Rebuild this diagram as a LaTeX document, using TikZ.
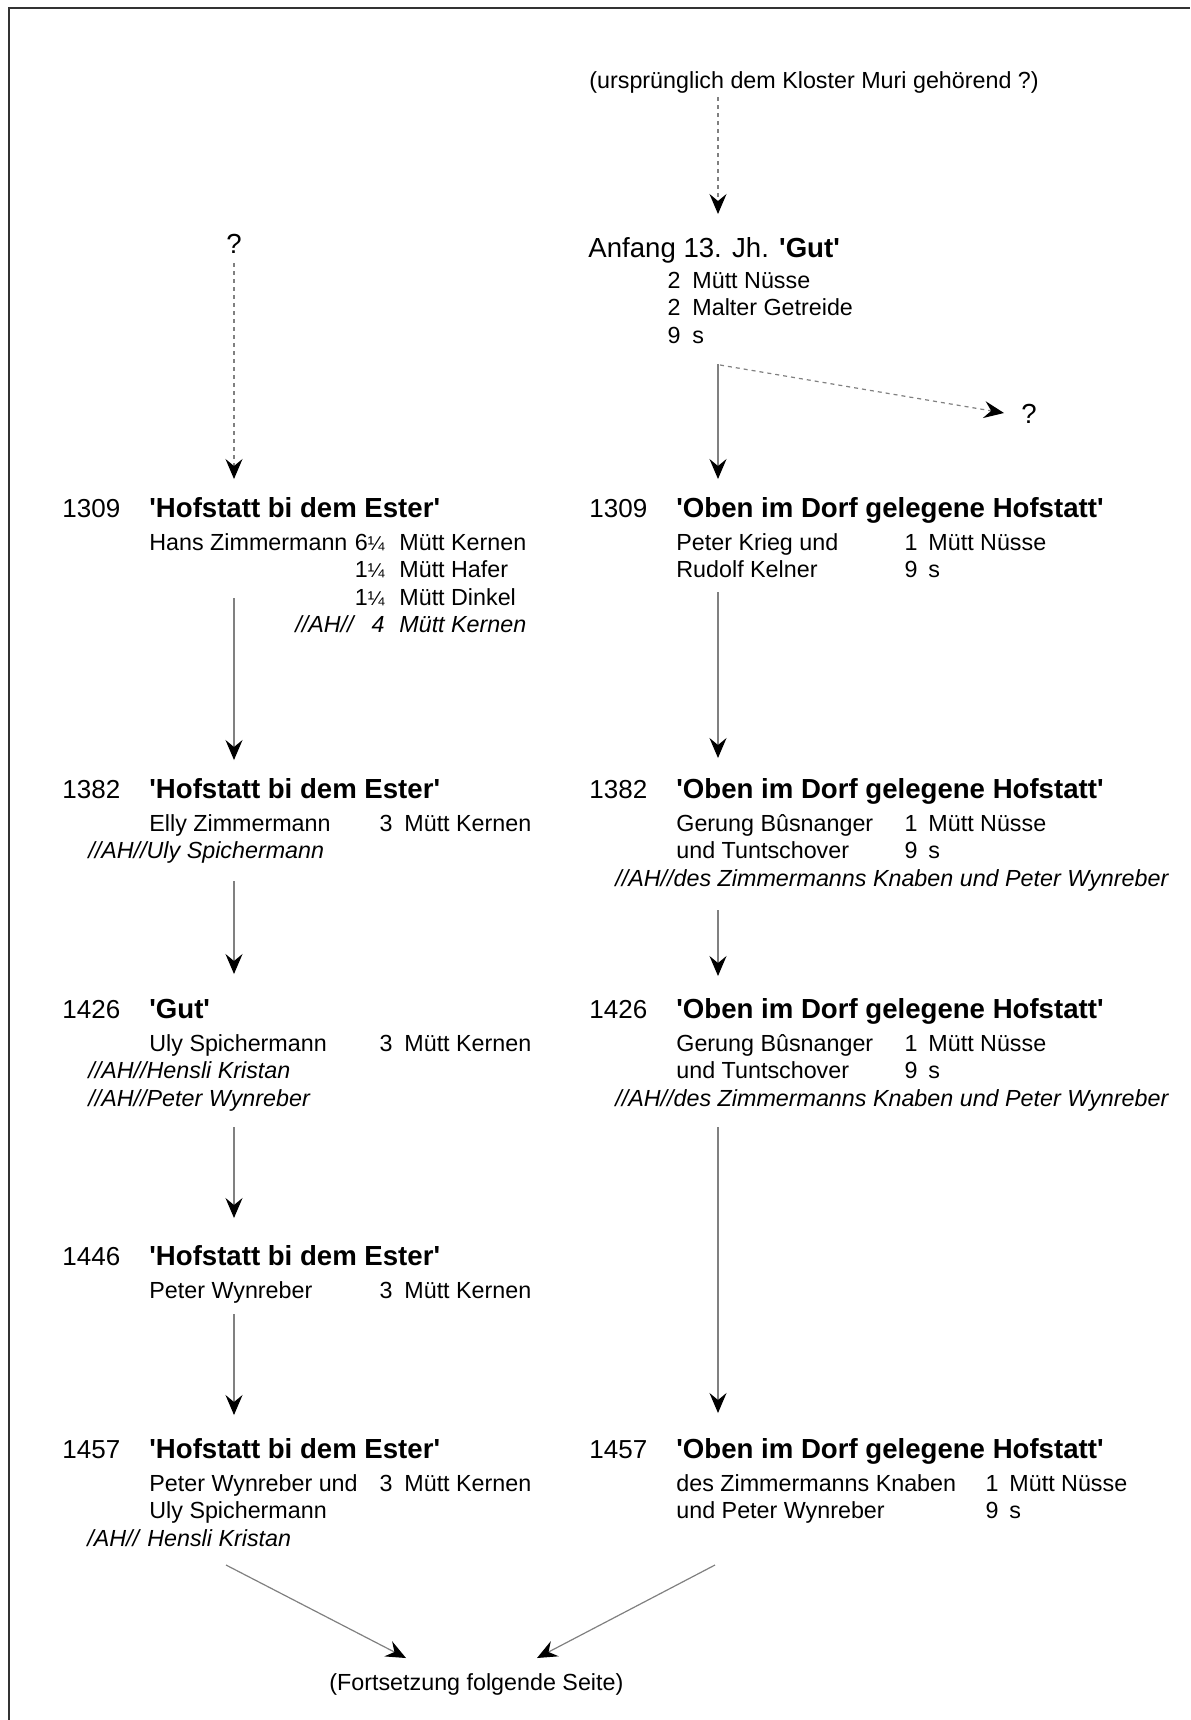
\documentclass[tikz,border=0pt]{standalone}
\usepackage{fontspec}
\setmainfont{Liberation Sans}
\usetikzlibrary{arrows.meta}
\newcommand{\qs}{\textquotesingle}
\newcommand{\qtr}{{\fontsize{10}{10}\selectfont ¼}}
\begin{document}
\begin{tikzpicture}[x=0.5pt,y=-0.5pt,
  txt/.style={anchor=base west, inner sep=0pt, font=\fontsize{11.65}{14}\selectfont},
  num/.style={anchor=base east, inner sep=0pt, font=\fontsize{11.65}{14}\selectfont},
  itx/.style={txt, font=\fontsize{11.65}{14}\selectfont\itshape},
  inum/.style={num, font=\fontsize{11.65}{14}\selectfont\itshape},
  yr/.style={anchor=base west, inner sep=0pt, font=\fontsize{13}{15}\selectfont},
  ttl/.style={anchor=base west, inner sep=0pt, font=\fontsize{13.8}{16}\selectfont\bfseries},
  big/.style={anchor=base west, inner sep=0pt, font=\fontsize{13.8}{16}\selectfont},
  qm/.style={anchor=base, inner sep=0pt, font=\fontsize{13.8}{16}\selectfont},
  arr/.style={draw=black!50, line width=0.6pt, -{Stealth[length=10pt, width=8.5pt, inset=3.5pt, black]}},
  darr/.style={arr, dash pattern=on 2pt off 2pt},
  frame/.style={draw=black!80, line width=1pt}
]
\useasboundingbox (0,0) rectangle (1190,1720);
\draw[frame] (9,1720) -- (9,8) -- (1190,8);

% ---- top right origin
\node[txt] (src) at (589,88) {(ursprünglich dem Kloster Muri gehörend ?)};
\node[big] (anf) at (588,257) {Anfang 13. Jh. \textbf{\qs Gut\qs}};
\node[num] (g1n) at (681,288) {2};
\node[txt] (g1u) at (692,288) {Mütt Nüsse};
\node[num] (g2n) at (681,315) {2};
\node[txt] (g2u) at (692,315) {Malter Getreide};
\node[num] (g3n) at (681,343) {9};
\node[txt] (g3u) at (692,343) {s};
\node[qm] (qr) at (1029,423) {?};
\node[qm] (ql) at (234,253) {?};

% ---- left column
\node[yr] (l1y) at (62,517) {1309};
\node[ttl] (l1t) at (149,517) {\qs Hofstatt bi dem Ester\qs};
\node[txt] (l1a) at (149,550) {Hans Zimmermann};
\node[num] (l1an) at (385,550) {6\qtr};
\node[txt] (l1au) at (399,550) {Mütt Kernen};
\node[num] (l1bn) at (385,577.5) {1\qtr};
\node[txt] (l1bu) at (399,577.5) {Mütt Hafer};
\node[num] (l1cn) at (385,605) {1\qtr};
\node[txt] (l1cu) at (399,605) {Mütt Dinkel};
\node[itx] (l1d) at (295,632.5) {//AH//};
\node[inum] (l1dn) at (385,632.5) {4};
\node[itx] (l1du) at (399,632.5) {Mütt Kernen};

\node[yr] (l2y) at (62,798) {1382};
\node[ttl] (l2t) at (149,798) {\qs Hofstatt bi dem Ester\qs};
\node[txt] (l2a) at (149,831) {Elly Zimmermann};
\node[num] (l2an) at (393,831) {3};
\node[txt] (l2au) at (404,831) {Mütt Kernen};
\node[itx] (l2b) at (88,858.5) {//AH//Uly Spichermann};

\node[yr] (l3y) at (62,1018) {1426};
\node[ttl] (l3t) at (149,1018) {\qs Gut\qs};
\node[txt] (l3a) at (149,1051) {Uly Spichermann};
\node[num] (l3an) at (393,1051) {3};
\node[txt] (l3au) at (404,1051) {Mütt Kernen};
\node[itx] (l3b) at (88,1078.5) {//AH//Hensli Kristan};
\node[itx] (l3c) at (88,1106) {//AH//Peter Wynreber};

\node[yr] (l4y) at (62,1265) {1446};
\node[ttl] (l4t) at (149,1265) {\qs Hofstatt bi dem Ester\qs};
\node[txt] (l4a) at (149,1298) {Peter Wynreber};
\node[num] (l4an) at (393,1298) {3};
\node[txt] (l4au) at (404,1298) {Mütt Kernen};

\node[yr] (l5y) at (62,1458) {1457};
\node[ttl] (l5t) at (149,1458) {\qs Hofstatt bi dem Ester\qs};
\node[txt] (l5a) at (149,1491) {Peter Wynreber und};
\node[num] (l5an) at (393,1491) {3};
\node[txt] (l5au) at (404,1491) {Mütt Kernen};
\node[txt] (l5b) at (149,1518.5) {Uly Spichermann};
\node[itx] (l5c) at (87,1546) {/AH//\hspace{0.35em}Hensli Kristan};

% ---- right column
\node[yr] (r1y) at (589,517) {1309};
\node[ttl] (r1t) at (676,517) {\qs Oben im Dorf gelegene Hofstatt\qs};
\node[txt] (r1a) at (676,550) {Peter Krieg und};
\node[num] (r1an) at (918,550) {1};
\node[txt] (r1au) at (928,550) {Mütt Nüsse};
\node[txt] (r1b) at (676,577.5) {Rudolf Kelner};
\node[num] (r1bn) at (918,577.5) {9};
\node[txt] (r1bu) at (928,577.5) {s};

\node[yr] (r2y) at (589,798) {1382};
\node[ttl] (r2t) at (676,798) {\qs Oben im Dorf gelegene Hofstatt\qs};
\node[txt] (r2a) at (676,831) {Gerung Bûsnanger};
\node[num] (r2an) at (918,831) {1};
\node[txt] (r2au) at (928,831) {Mütt Nüsse};
\node[txt] (r2b) at (676,858.5) {und Tuntschover};
\node[num] (r2bn) at (918,858.5) {9};
\node[txt] (r2bu) at (928,858.5) {s};
\node[itx] (r2c) at (615,886) {//AH//des Zimmermanns Knaben und Peter Wynreber};

\node[yr] (r3y) at (589,1018) {1426};
\node[ttl] (r3t) at (676,1018) {\qs Oben im Dorf gelegene Hofstatt\qs};
\node[txt] (r3a) at (676,1051) {Gerung Bûsnanger};
\node[num] (r3an) at (918,1051) {1};
\node[txt] (r3au) at (928,1051) {Mütt Nüsse};
\node[txt] (r3b) at (676,1078.5) {und Tuntschover};
\node[num] (r3bn) at (918,1078.5) {9};
\node[txt] (r3bu) at (928,1078.5) {s};
\node[itx] (r3c) at (615,1106) {//AH//des Zimmermanns Knaben und Peter Wynreber};

\node[yr] (r5y) at (589,1458) {1457};
\node[ttl] (r5t) at (676,1458) {\qs Oben im Dorf gelegene Hofstatt\qs};
\node[txt] (r5a) at (676,1491) {des Zimmermanns Knaben};
\node[num] (r5an) at (999,1491) {1};
\node[txt] (r5au) at (1009,1491) {Mütt Nüsse};
\node[txt] (r5b) at (676,1518.5) {und Peter Wynreber};
\node[num] (r5bn) at (999,1518.5) {9};
\node[txt] (r5bu) at (1009,1518.5) {s};

\node[txt] (fort) at (329,1690) {(Fortsetzung folgende Seite)};

% ---- connector end points
\coordinate (a0s) at (718,97);   \coordinate (a0e) at (718,214);
\coordinate (aLs) at (234,263);  \coordinate (aLe) at (234,479);
\coordinate (aRs) at (718,364);  \coordinate (aRe) at (718,479);
\coordinate (aDs) at (720,365);  \coordinate (aDe) at (1004,413);
\coordinate (l1s) at (234,598);  \coordinate (l1e) at (234,760);
\coordinate (r1s) at (718,592);  \coordinate (r1e) at (718,758);
\coordinate (l2s) at (234,881);  \coordinate (l2e) at (234,974);
\coordinate (r2s) at (718,910);  \coordinate (r2e) at (718,976);
\coordinate (l3s) at (234,1127); \coordinate (l3e) at (234,1218);
\coordinate (r3s) at (718,1127); \coordinate (r3e) at (718,1413);
\coordinate (l4s) at (234,1314); \coordinate (l4e) at (234,1415);
\coordinate (dLs) at (226,1565); \coordinate (dLe) at (406,1658);
\coordinate (dRs) at (715,1565); \coordinate (dRe) at (537,1658);

\draw[darr] (a0s) -- (a0e);
\draw[darr] (aLs) -- (aLe);
\draw[arr] (aRs) -- (aRe);
\draw[darr] (aDs) -- (aDe);
\draw[arr] (l1s) -- (l1e);
\draw[arr] (r1s) -- (r1e);
\draw[arr] (l2s) -- (l2e);
\draw[arr] (r2s) -- (r2e);
\draw[arr] (l3s) -- (l3e);
\draw[arr] (r3s) -- (r3e);
\draw[arr] (l4s) -- (l4e);
\draw[arr] (dLs) -- (dLe);
\draw[arr] (dRs) -- (dRe);
\end{tikzpicture}
\end{document}
